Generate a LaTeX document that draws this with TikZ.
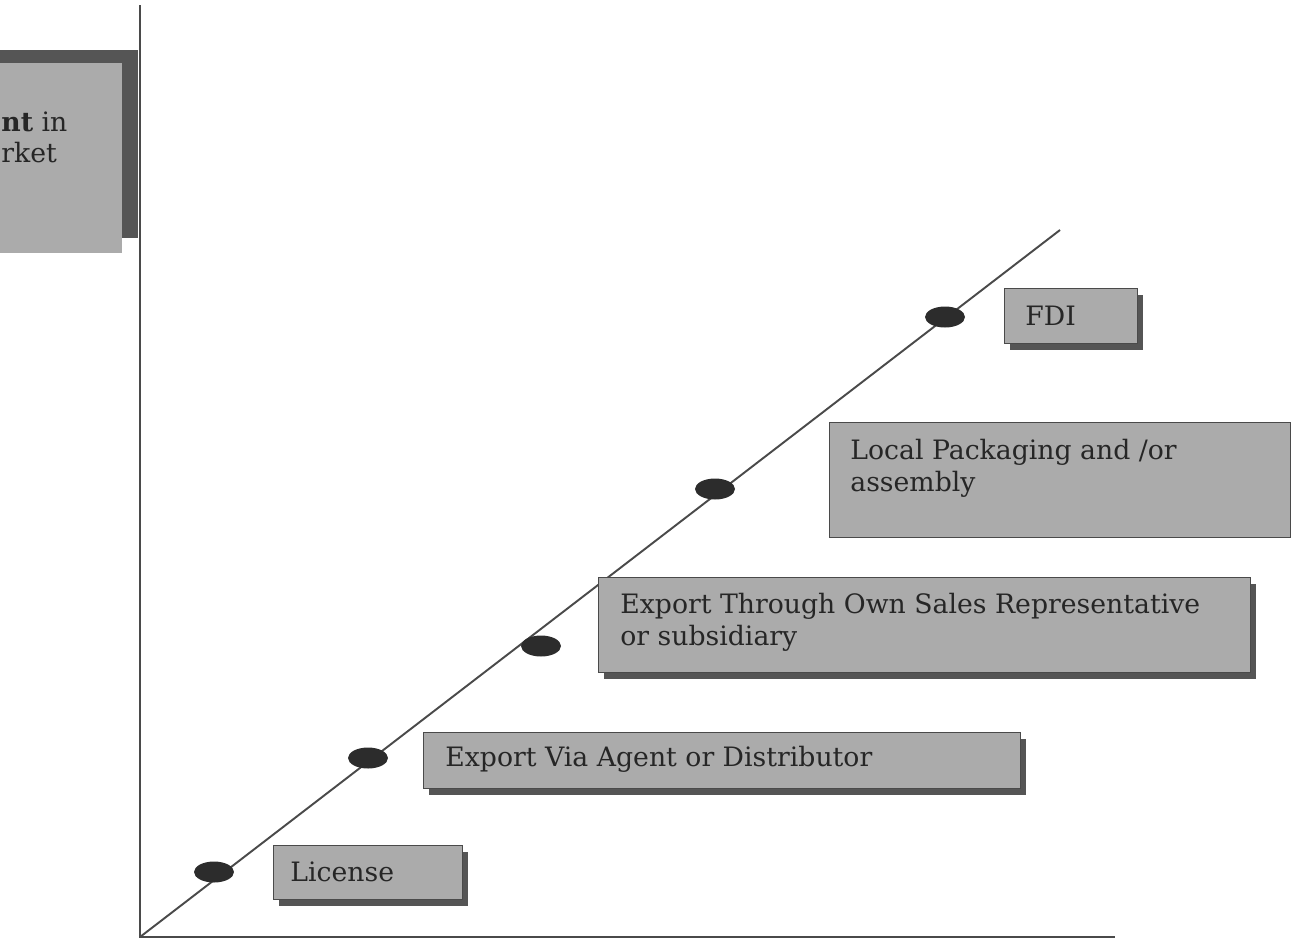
\documentclass[tikz,border=0pt]{standalone}
\usepackage{fontspec}
\setmainfont{DejaVu Serif}
\usetikzlibrary{shapes.geometric}

\definecolor{boxgray}{HTML}{ABABAB}
\definecolor{shadowgray}{HTML}{555555}
\definecolor{linegray}{HTML}{4A4A4A}
\definecolor{dotgray}{HTML}{2C2C2C}

\tikzset{
  axis/.style = {draw=linegray, line width=1.1pt},
  stagedot/.style = {ellipse, fill=dotgray, minimum width=0.8cm, minimum height=0.42cm, inner sep=0pt},
  stagebox/.style = {fill=boxgray, draw=linegray, line width=0.5pt},
  stageshadow/.style = {fill=shadowgray},
  stagetext/.style = {anchor=west, align=left, inner sep=0pt, text=black!85,
    font=\fontsize{15.2}{18}\selectfont}
}

% box with a drop shadow: x1, y1, x2, y2 (pixels, y down)
\newcommand{\stagerect}[4]{%
  \fill[stageshadow] (#1+6,#2+7) rectangle (#3+6,#4+7);
  \draw[stagebox] (#1,#2) rectangle (#3,#4);}

\begin{document}
\begin{tikzpicture}[x=0.02cm, y=-0.02cm]
      \useasboundingbox (0,0) rectangle (1298,944);

      % cut-off box on the left
      \fill[shadowgray] (0,50) rectangle (138,238);
      \fill[boxgray] (0,63) rectangle (122,253);
      \node[stagetext] (cutone) at (1,122) {\textbf{nt} in};
      \node[stagetext] (cuttwo) at (1,153) {rket};

      % axes
      \coordinate (origin) at (140,937);
      \coordinate (ytop) at (140,5);
      \coordinate (xend) at (1115,937);
      \coordinate (dend) at (1060,230);
      \draw[axis] (ytop) -- (origin) -- (xend);
      \draw[axis] (origin) -- (dend);

      % stages
      \stagerect{273}{845}{462}{899}
      \node[stagetext] (license) at (290,872) {License};

      \stagerect{423}{732}{1020}{788}
      \node[stagetext] (agent) at (445,759) {Export Via Agent or Distributor};

      \stagerect{598}{577}{1250}{672}
      \node[stagetext] (sales) at (620,622) {Export Through Own Sales Representative\\or subsidiary};

      \draw[stagebox] (829,422) rectangle (1290,537);
      \node[stagetext] (local) at (850,468) {Local Packaging and /or\\assembly};

      \stagerect{1004}{288}{1137}{343}
      \node[stagetext] (fdi) at (1025,316) {FDI};

      % dots on the diagonal
      \foreach \px/\py [count=\i] in {214/872, 368/758, 541/646, 715/489, 945/317}
        \node[stagedot] (dot\i) at (\px,\py) {};
\end{tikzpicture}
\end{document}
